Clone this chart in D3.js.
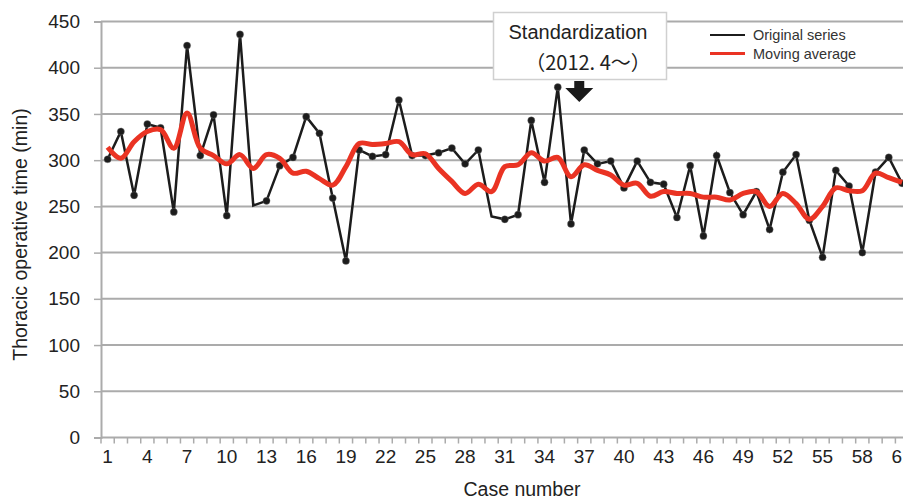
<!DOCTYPE html>
<html>
<head>
<meta charset="utf-8">
<script src="https://cdn.jsdelivr.net/npm/d3@7"></script>
<style>
  html, body { margin: 0; padding: 0; background: #fff; overflow: hidden; }
  svg { display: block; font-family: "Liberation Sans", Arial, sans-serif; }
</style>
</head>
<body>
<svg id="chart" width="903" height="499"></svg>
<script>
// ---- data ----
const cases = d3.range(1, 62);
const originalSeries = [301,331,262,339,335,244,424,305,349,240,436,251,256,294,303,347,329,259,191,311,
  304,306,365,305,305,308,313,296,311,239,236,241,343,276,379,231,311,296,299,270,
  299,276,274,238,294,218,305,265,241,266,225,287,306,235,195,289,272,200,287,303,275];
const movingAverage = [314,302,320,331,333,313,351,313,305,296,306,291,306,302,286,288,280,273,293,318,
  317,318,320,306,307,291,277,264,274,266,293,295,308,299,303,282,295,289,284,273,
  275,261,266,264,264,260,260,257,264,266,250,264,253,236,250,270,267,267,286,281,276];
const noMarkerCases = [12, 30];
const yTicks = [0,50,100,150,200,250,300,350,400,450];
const xTickLabels = cases.filter(c => (c - 1) % 3 === 0);
const seriesNames = ["Original series", "Moving average"];
const annotationLines = ["Standardization", "\uFF082012. 4\uFF5E\uFF09"];
const annotationCase = 37;

// ---- layout ----
const svg = d3.select("#chart");
const mLeft = 101, mTop = 21.5, mBottom = 437.5, bandW = 13.24;
const x = d3.scaleBand().domain(cases).range([mLeft, mLeft + bandW * cases.length]).paddingInner(0).paddingOuter(0);
const xc = c => x(c) + x.bandwidth() / 2;
const y = d3.scaleLinear().domain([0, 450]).range([mBottom, mTop]);

const gridColor = "#ababab";

// gridlines
svg.append("g").selectAll("line").data(yTicks.filter(d => d > 0)).join("line")
  .attr("x1", mLeft).attr("x2", 903)
  .attr("y1", d => y(d)).attr("y2", d => y(d))
  .attr("stroke", gridColor).attr("stroke-width", 2);

// y axis
const yAxis = svg.append("g").attr("transform", `translate(${mLeft},0)`)
  .call(d3.axisLeft(y).tickValues(yTicks).tickSize(7).tickPadding(14));
yAxis.select(".domain").attr("stroke", gridColor).attr("stroke-width", 2);
yAxis.selectAll(".tick line").attr("stroke", gridColor).attr("stroke-width", 1.5);
yAxis.selectAll(".tick text").attr("font-size", 19).attr("fill", "#222")
  .attr("font-family", "Liberation Sans, Arial, sans-serif");

// x axis
const xAxis = svg.append("g").attr("transform", `translate(0,${mBottom})`)
  .call(d3.axisBottom(x).tickValues(xTickLabels).tickSize(0).tickPadding(12));
xAxis.select(".domain").remove();
xAxis.selectAll(".tick text").attr("font-size", 19).attr("fill", "#222")
  .attr("font-family", "Liberation Sans, Arial, sans-serif");
svg.append("line").attr("x1", mLeft).attr("x2", 903).attr("y1", mBottom).attr("y2", mBottom)
  .attr("stroke", gridColor).attr("stroke-width", 2);
svg.append("g").selectAll("line").data(cases).join("line")
  .attr("x1", d => x(d)).attr("x2", d => x(d))
  .attr("y1", mBottom).attr("y2", mBottom + 6)
  .attr("stroke", gridColor).attr("stroke-width", 1.5);

// axis titles
svg.append("text").attr("x", (mLeft + 903) / 2 + 20).attr("y", 496)
  .attr("text-anchor", "middle").attr("font-size", 19.5).attr("fill", "#222").text("Case number");
svg.append("text").attr("transform", `translate(27,${(mTop + mBottom) / 2 + 5}) rotate(-90)`)
  .attr("text-anchor", "middle").attr("font-size", 19.5).attr("fill", "#222")
  .text("Thoracic operative time (min)");

// original series
const lineGen = d3.line().x((d, i) => xc(cases[i])).y(d => y(d));
svg.append("path").datum(originalSeries).attr("d", lineGen)
  .attr("fill", "none").attr("stroke", "#1c1c1c").attr("stroke-width", 2.5).attr("stroke-linejoin", "miter");
svg.append("g").selectAll("circle")
  .data(originalSeries.map((v, i) => ({c: cases[i], v})).filter(d => !noMarkerCases.includes(d.c)))
  .join("circle")
  .attr("cx", d => xc(d.c)).attr("cy", d => y(d.v)).attr("r", 3.6)
  .attr("fill", "#1c1c1c").attr("stroke", "#888").attr("stroke-opacity", 0.35).attr("stroke-width", 1);

// moving average
const smoothGen = d3.line().x((d, i) => xc(cases[i])).y(d => y(d)).curve(d3.curveCatmullRom.alpha(0.5));
svg.append("path").datum(movingAverage).attr("d", smoothGen)
  .attr("fill", "none").attr("stroke", "#ea3323").attr("stroke-width", 5).attr("stroke-linejoin", "round");

// legend
const lg = svg.append("g").attr("transform", "translate(710,0)");
const legendColors = ["#1c1c1c", "#ea3323"];
const legendWidths = [2, 3];
seriesNames.forEach((name, i) => {
  const ly = 35 + i * 18.5;
  lg.append("line").attr("x1", 0).attr("x2", 35).attr("y1", ly).attr("y2", ly)
    .attr("stroke", legendColors[i]).attr("stroke-width", legendWidths[i]);
  lg.append("text").attr("x", 43).attr("y", ly + 5).attr("font-size", 14.5).attr("fill", "#333")
    .style("font-stretch", "condensed").text(name);
});

// annotation
const ax = xc(annotationCase) - 5;
const ann = svg.append("g");
ann.append("rect").attr("x", 493.5).attr("y", 12.5).attr("width", 173).attr("height", 67)
  .attr("fill", "#fff").attr("stroke", "#d0d0d0").attr("stroke-width", 1.5);
ann.append("text").attr("x", 578).attr("y", 39).attr("text-anchor", "middle")
  .attr("font-size", 20).attr("fill", "#222").text(annotationLines[0]);
ann.append("text").attr("x", 588).attr("y", 70).attr("text-anchor", "middle")
  .attr("font-size", 20).attr("fill", "#222")
  .attr("font-family", "'Noto Sans CJK JP', 'Liberation Sans', sans-serif").text(annotationLines[1]);
ann.append("path")
  .attr("d", `M${ax - 5},81 L${ax + 5},81 L${ax + 5},88 L${ax + 14},88 L${ax},102 L${ax - 14},88 L${ax - 5},88 Z`)
  .attr("fill", "#1a1a1a");
</script>
</body>
</html>
